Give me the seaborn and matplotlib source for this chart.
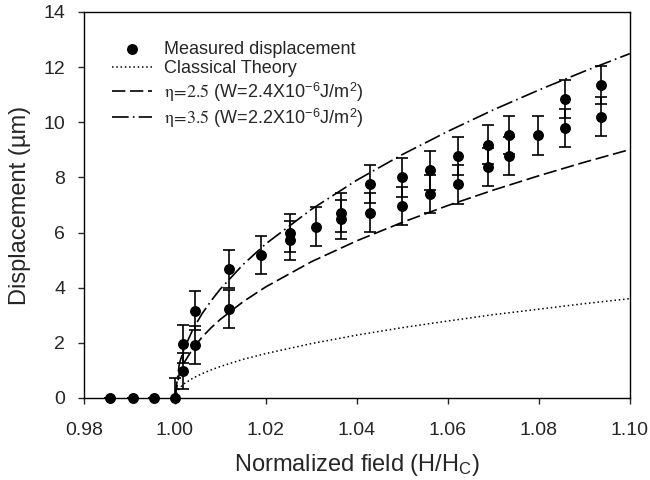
import matplotlib
matplotlib.use('Agg')
import matplotlib.pyplot as plt
import seaborn as sns
import pandas as pd

# measured displacement (um) vs normalized field H/Hc
field_meas = [0.9857, 0.9907, 0.9955, 1.0000, 1.0018, 1.0018, 1.0045, 1.0045,
              1.0118, 1.0118, 1.0190, 1.0253, 1.0253, 1.0311, 1.0366, 1.0366,
              1.0429, 1.0429, 1.0499, 1.0499, 1.0560, 1.0560, 1.0622, 1.0622,
              1.0688, 1.0688, 1.0734, 1.0734, 1.0798, 1.0858, 1.0858, 1.0937, 1.0937]
disp_meas = [0, 0, 0, 0, 0.99, 1.96, 1.92, 3.17,
             3.23, 4.67, 5.19, 5.72, 5.98, 6.21, 6.48, 6.72,
             6.72, 7.76, 6.96, 8.00, 7.40, 8.26, 7.75, 8.77,
             8.37, 9.19, 8.78, 9.54, 9.53, 9.79, 10.85, 10.20, 11.35]
disp_err = [0, 0, 0, 0.72, 0.65, 0.7, 0.7, 0.7,
            0.7, 0.7, 0.7, 0.7, 0.7, 0.7, 0.7, 0.7,
            0.7, 0.7, 0.7, 0.7, 0.7, 0.7, 0.7, 0.7,
            0.7, 0.7, 0.7, 0.7, 0.7, 0.7, 0.7, 0.7, 0.7]

# theory curves
field_th = [1.000, 1.001, 1.002, 1.004, 1.006, 1.008, 1.010, 1.015, 1.020,
            1.030, 1.040, 1.050, 1.060, 1.070, 1.080, 1.090, 1.100]
classical = [0, 0.36, 0.51, 0.72, 0.88, 1.02, 1.14, 1.40, 1.61,
             1.97, 2.28, 2.55, 2.79, 3.02, 3.22, 3.42, 3.60]
eta25 = [0, 0.90, 1.27, 1.80, 2.21, 2.55, 2.85, 3.49, 4.03,
         4.94, 5.70, 6.37, 6.98, 7.54, 8.06, 8.55, 9.01]
eta35 = [0, 1.25, 1.77, 2.50, 3.06, 3.53, 3.95, 4.84, 5.59,
         6.84, 7.90, 8.83, 9.67, 10.45, 11.17, 11.85, 12.49]

sns.set_style('ticks')
plt.rcParams['font.family'] = ['Liberation Sans', 'DejaVu Sans']
plt.rcParams['mathtext.fontset'] = 'stix'

df_th = pd.DataFrame({'x': field_th, 'classical': classical,
                      'eta25': eta25, 'eta35': eta35})

fig = plt.figure(figsize=(6.5, 4.8), dpi=100)
ax = fig.add_axes([0.129, 0.171, 0.840, 0.804])

ax.errorbar(field_meas, disp_meas, yerr=disp_err, fmt='none', ecolor='black',
            elinewidth=1.2, capsize=4.5, capthick=1.2, zorder=3)
sns.scatterplot(x=field_meas, y=disp_meas, ax=ax, color='black', s=62,
                edgecolor='black', linewidth=0, zorder=4, clip_on=False,
                label='Measured displacement')

sup = r' (W=%sX10$^{\mathregular{-6}}$J/m$^{\mathregular{2}}$)'
sns.lineplot(data=df_th, x='x', y='classical', ax=ax, color='black', lw=1.1,
             linestyle=(0, (1, 1.8)), label='Classical Theory')
sns.lineplot(data=df_th, x='x', y='eta25', ax=ax, color='black', lw=1.2,
             linestyle=(0, (8, 2.8)),
             label=r'$\mathrm{\eta}\!=\!\mathrm{2.5}$' + sup % '2.4')
sns.lineplot(data=df_th, x='x', y='eta35', ax=ax, color='black', lw=1.2,
             linestyle=(0, (10, 2.5, 1, 2.5)),
             label=r'$\mathrm{\eta}\!=\!\mathrm{3.5}$' + sup % '2.2')

ax.set_xlim(0.98, 1.10)
ax.set_ylim(0, 14)
ax.set_xticks([0.98, 1.00, 1.02, 1.04, 1.06, 1.08, 1.10])
ax.set_xticklabels(['0.98', '1.00', '1.02', '1.04', '1.06', '1.08', '1.10'])
ax.set_yticks(range(0, 15, 2))
ax.tick_params(labelsize=14, direction='out', length=4.5, width=1)
ax.tick_params(axis='x', pad=13)
ax.tick_params(axis='y', pad=9)
for s in ax.spines.values():
    s.set_linewidth(1)
    s.set_color('black')

ax.set_xlabel('Normalized field (H/H$_{\\mathregular{C}}$)', fontsize=17, labelpad=9)
ax.set_ylabel('Displacement (\u00b5m)', fontsize=17, labelpad=9)

ax.legend(loc='upper left', bbox_to_anchor=(0.022, 0.968), frameon=False,
          fontsize=13, handlelength=2.2, handletextpad=0.7, labelspacing=0.15,
          borderpad=0.4)

fig.savefig('out.png', dpi=100)
